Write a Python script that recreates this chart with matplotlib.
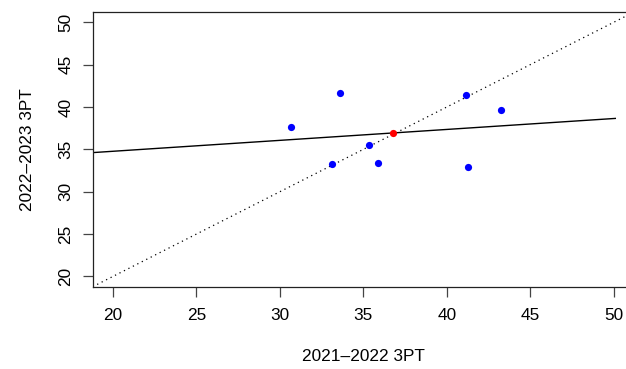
import numpy as np
import matplotlib.pyplot as plt

plt.rcParams['font.family'] = ['Liberation Sans', 'DejaVu Sans']

# 3PT percentages, two seasons
x_3pt = [30.64, 33.63, 33.13, 35.35, 35.85, 41.17, 43.27, 41.29]
y_3pt = [37.67, 41.69, 33.26, 35.47, 33.38, 41.41, 39.68, 32.94]
ticks = [20, 25, 30, 35, 40, 45, 50]

x = np.array(x_3pt)
y = np.array(y_3pt)
slope, intercept = np.polyfit(x, y, 1)

fig = plt.figure(figsize=(6.26, 3.69), dpi=100)
ax = fig.add_axes([92.7 / 626, 82.3 / 369, (634 - 92.7) / 626, (286.7 - 12) / 369])

lo, hi = 18.78, 51.22
ax.set_xlim(lo, hi)
ax.set_ylim(lo, hi)

# identity line
ax.plot([lo, hi], [lo, hi], color='black', lw=0.9, linestyle=(0, (1, 3)))
# fitted line
xs = np.array([lo, 50.1])
ax.plot(xs, intercept + slope * xs, color='black', lw=1.0)

ax.plot(x, y, 'o', color='blue', markersize=5.2, markeredgewidth=0)
ax.plot([x.mean()], [y.mean()], 'o', color='red', markersize=5.2, markeredgewidth=0)

ax.set_xticks(ticks)
ax.set_yticks(ticks)
ax.tick_params(length=7, width=0.9, color='#444444', labelsize=12.4)
ax.tick_params(axis='x', pad=8)
ax.tick_params(axis='y', pad=7)
plt.setp(ax.get_yticklabels(), rotation=90, va='center')
for s in ax.spines.values():
    s.set_linewidth(0.9)
    s.set_color('#222222')

ax.set_xlabel('2021–2022 3PT', fontsize=12.4, labelpad=19)
ax.set_ylabel('2022–2023 3PT', fontsize=12.4, labelpad=17)

fig.savefig('out.png', dpi=100)
